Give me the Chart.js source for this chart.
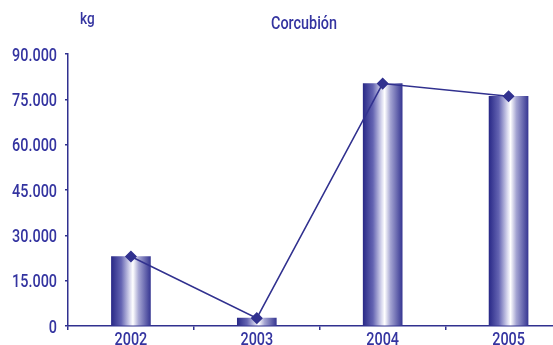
<!DOCTYPE html>
<html>
<head>
<meta charset="utf-8">
<script src="https://cdn.jsdelivr.net/npm/chart.js@4.4.1/dist/chart.umd.min.js"></script>
<style>
  html, body { margin: 0; padding: 0; background: #fff; }
  #wrap { width: 553px; height: 345px; overflow: hidden; position: relative; }
  #box { width: 578px; height: 345px; }
</style>
</head>
<body>
<div id="wrap"><div id="box"><canvas id="grafico"></canvas></div></div>
<script>
// --- Datos ---
const anos = ['2002', '2003', '2004', '2005'];
const kg = [23000, 2600, 80200, 76000];
const ticksY = [0, 15000, 30000, 45000, 60000, 75000, 90000];
const titulo = 'Corcubión';
const unidad = 'kg';

const azul = '#31318f';
const azulTexto = '#3434a0';
const fuente = "Roboto, 'DejaVu Sans', sans-serif";
const estrecho = 0.8; // la fuente original es condensada

// degradado horizontal de cada barra (oscuro - blanco - oscuro)
function degradado(context) {
    const chart = context.chart;
    const x = chart.scales.x;
    if (!chart.chartArea || !x) return azul;
    const cx = x.getPixelForValue(context.dataIndex);
    const g = chart.ctx.createLinearGradient(cx - 19.5, 0, cx + 19.5, 0);
    g.addColorStop(0, '#2a2a88');
    g.addColorStop(0.25, '#6464b2');
    g.addColorStop(0.47, '#d8d8ee');
    g.addColorStop(0.55, '#ffffff');
    g.addColorStop(0.7, '#a4a4d2');
    g.addColorStop(1, '#383893');
    return g;
}

function texto(c, str, x, y, align) {
    c.save();
    c.translate(x, y);
    c.scale(estrecho, 1);
    c.textAlign = align;
    c.textBaseline = 'alphabetic';
    c.fillText(str, 0, 0);
    c.restore();
}

// título, unidad y etiquetas de los ejes
const textos = {
    id: 'textos',
    afterDraw(chart) {
        const c = chart.ctx;
        const sx = chart.scales.x, sy = chart.scales.y;
        c.save();
        c.fillStyle = azulTexto;
        c.font = '500 18px ' + fuente;
        texto(c, titulo, 304, 28.5, 'center');
        c.font = '500 17px ' + fuente;
        texto(c, unidad, 80, 24, 'left');
        c.font = '500 18px ' + fuente;
        sy.ticks.forEach((t, i) => {
            texto(c, t.value.toLocaleString('de-DE'), 57, sy.getPixelForTick(i) + 6.5, 'right');
        });
        sx.ticks.forEach((t, i) => {
            texto(c, anos[i], sx.getPixelForTick(i), 345, 'center');
        });
        c.restore();
    }
};

new Chart(document.getElementById('grafico'), {
    data: {
        labels: anos,
        datasets: [
            {
                type: 'line', data: kg, order: 0,
                borderColor: azul, borderWidth: 1.5,
                pointStyle: 'rectRot', pointRadius: 5,
                pointBackgroundColor: azul, pointBorderColor: azul,
                tension: 0
            },
            {
                type: 'bar', data: kg, order: 1,
                backgroundColor: degradado, barThickness: 39, borderWidth: 0
            }
        ]
    },
    options: {
        responsive: true, maintainAspectRatio: false, animation: false,
        layout: { padding: { top: 54, right: 0, left: 0, bottom: 0 } },
        plugins: { legend: { display: false }, tooltip: { enabled: false } },
        scales: {
            x: {
                offset: true,
                border: { color: azul, width: 1.5 },
                grid: { drawOnChartArea: false, color: azul, lineWidth: 1.5, tickLength: 4, offset: true },
                ticks: { display: false },
                afterFit(s) { s.height = 19; }
            },
            y: {
                min: 0, max: 90000,
                border: { color: azul, width: 1.5 },
                grid: { drawOnChartArea: false, color: azul, lineWidth: 1.5, tickLength: 3 },
                afterBuildTicks(s) { s.ticks = ticksY.map(v => ({ value: v })); },
                ticks: { display: false },
                afterFit(s) { s.width = 68; }
            }
        }
    },
    plugins: [textos]
});
</script>
</body>
</html>
